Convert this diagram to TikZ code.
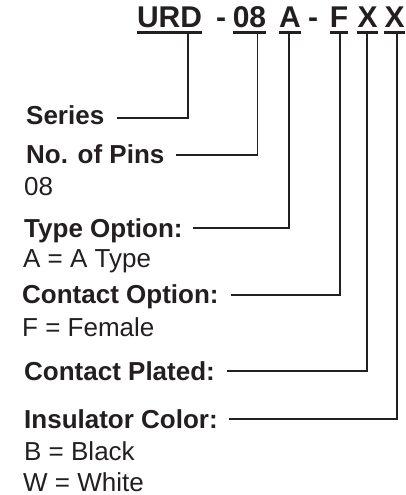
\documentclass[tikz,border=0pt]{standalone}
\usepackage{fontspec}
\setmainfont{Liberation Sans}
\definecolor{ink}{HTML}{231F20}
\begin{document}
\begin{tikzpicture}[x=1pt,y=-1pt,
  title/.style={font=\fontsize{30}{30}\selectfont\bfseries, inner sep=0pt, anchor=base, text=ink},
  lab/.style={font=\fontsize{26}{26}\selectfont\bfseries, inner sep=0pt, anchor=base west, text=ink},
  val/.style={font=\fontsize{26}{26}\selectfont, inner sep=0pt, anchor=base west, text=ink},
  uline/.style={draw=ink, line width=2.6pt},
  conn/.style={draw=ink, line width=1.7pt}]
\useasboundingbox (0,0) rectangle (405,495);
% title
\node[title] (t1) at (169.5,28) {URD};
\node[title] (h1) at (221,28) {-};
\node[title] (t2) at (249.5,28) {08};
\node[title] (t3) at (290,28) {A};
\node[title] (h2) at (313,28) {-};
\node[title] (t4) at (339,28) {F};
\node[title] (t5) at (367.5,28) {X};
\node[title] (t6) at (394.5,28) {X};
\foreach \t in {t1,t2,t3,t4,t5,t6}
  \draw[uline] ([yshift=-4.5pt]\t.base west) -- ([yshift=-4.5pt]\t.base east);
% labels
\node[lab] (s)  at (26,124) {Series};
\node[lab] (p)  at (26,163) {No. of Pins};
\node[val] (pv) at (24,195) {08};
\node[lab] (ty) at (24,237) {Type Option:};
\node[val] (tv) at (23,267) {A = A Type};
\node[lab] (co) at (22,303) {Contact Option:};
\node[val] (cv) at (22,336) {F = Female};
\node[lab] (cp) at (24,380) {Contact Plated:};
\node[lab] (ic) at (24,428) {Insulator Color:};
\node[val] (b)  at (24,460.5) {B = Black};
\node[val] (w)  at (23,491.5) {W = White};
% connectors
\draw[conn] ([shift={(13pt,6pt)}]s.base east)  -| ([xshift=18.5pt,yshift=-5pt]t1.base);
\draw[conn] ([shift={(11pt,8pt)}]p.base east)  -| ([xshift=8pt,yshift=-5pt]t2.base);
\draw[conn] ([shift={(10pt,9pt)}]ty.base east) -| ([xshift=-1pt,yshift=-5pt]t3.base);
\draw[conn] ([shift={(12pt,8pt)}]co.base east) -| ([xshift=1pt,yshift=-5pt]t4.base);
\draw[conn] ([shift={(12pt,9pt)}]cp.base east) -| ([xshift=-0.5pt,yshift=-5pt]t5.base);
\draw[conn] ([shift={(11pt,9pt)}]ic.base east) -| ([xshift=2.5pt,yshift=-5pt]t6.base);
\end{tikzpicture}
\end{document}
